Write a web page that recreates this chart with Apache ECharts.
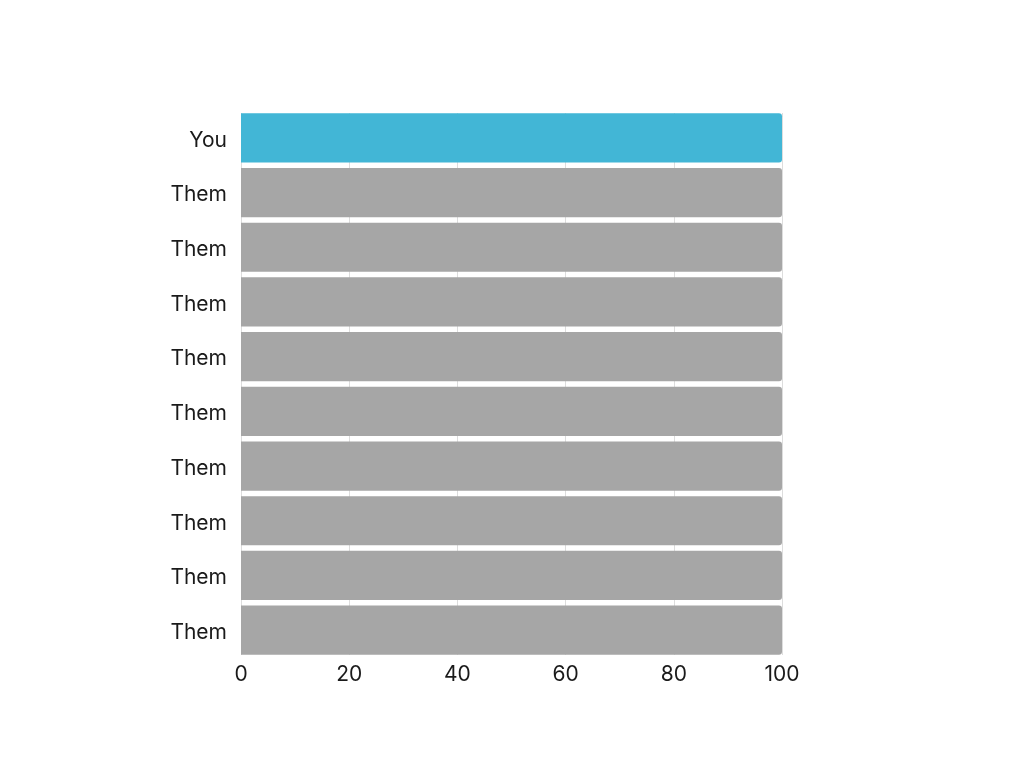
<!DOCTYPE html>
<html><head><meta charset="utf-8">
<script src="https://cdn.jsdelivr.net/npm/echarts@6/dist/echarts.min.js"></script>
<style>html,body{margin:0;padding:0;background:#fff}#c{width:1024px;height:768px}</style>
</head><body><div id="c"></div>
<script>
const categories = ["You","Them","Them","Them","Them","Them","Them","Them","Them","Them"];
const values = [100,100,100,100,100,100,100,100,100,100];
const xTicks = [0,20,40,60,80,100];
const colors = ["#42b6d6","#a6a6a6"];
const chart = echarts.init(document.getElementById('c'));
const font = 'Inter';
chart.setOption({
  animation:false,
  grid:[
    {left:241,right:242,top:110.5,bottom:110.5,containLabel:false},
    {left:241,right:242,top:113,bottom:113,containLabel:false}
  ],
  xAxis:[
    {type:'value',gridIndex:0,min:0,max:100,interval:20,
      axisLine:{show:false},axisTick:{show:false},
      axisLabel:{fontFamily:font,fontSize:21,color:'#1a1a1a',margin:7,
        formatter:v=>xTicks.includes(v)?String(v):''},
      splitLine:{show:false}},
    {type:'value',gridIndex:1,min:0,max:100,interval:20,
      axisLine:{show:false},axisTick:{show:false},axisLabel:{show:false},
      splitLine:{show:true,lineStyle:{color:'#dddddd',width:1}}}
  ],
  yAxis:[
    {type:'category',gridIndex:0,data:categories,inverse:true,
      axisLine:{show:false},axisTick:{show:false},
      axisLabel:{margin:14,formatter:v=>'{a|'+v+'}',
        rich:{a:{fontFamily:font,fontSize:21,color:'#1a1a1a',padding:[5,0,0,0]}}}},
    {type:'category',gridIndex:1,data:categories,inverse:true,show:false}
  ],
  series:[{type:'bar',xAxisIndex:0,yAxisIndex:0,barCategoryGap:'10%',
    data:values.map((v,i)=>({value:v,itemStyle:{color:i===0?colors[0]:colors[1]}})),
    itemStyle:{borderRadius:[0,3,3,0]}}]
});
</script></body></html>
